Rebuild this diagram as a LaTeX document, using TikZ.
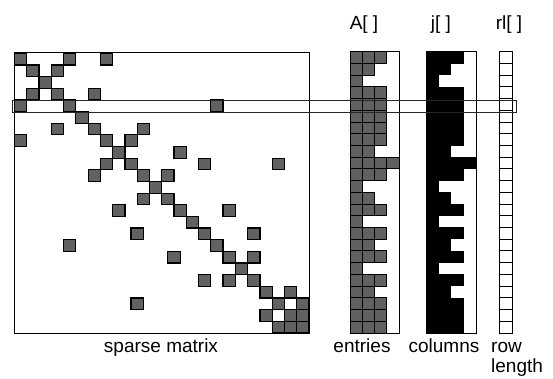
\documentclass[tikz,border=0pt]{standalone}
\usepackage{fontspec}
\setmainfont{Liberation Sans}
\begin{document}
\begin{tikzpicture}[x=1pt,y=-1pt,
  cellbox/.style={fill=black!62, draw=black, line width=1.2pt},
  arrcell/.style={fill=black!62, draw=black, line width=0.9pt},
  framebox/.style={draw=black, line width=0.9pt},
  lbl/.style={font=\fontsize{19}{21}\selectfont, inner sep=0pt}]
\useasboundingbox (0,0) rectangle (553,378);
% sparse matrix cells
\foreach \r/\c in {0/0,0/4,0/7,1/1,1/3,2/2,3/1,3/3,3/6,4/0,4/4,4/16,5/5,
  6/3,6/6,6/10,7/0,7/7,7/9,8/8,8/13,9/7,9/9,9/15,9/21,10/6,10/10,10/12,
  11/11,12/10,12/12,13/8,13/13,13/17,14/14,15/9.5,15/15,15/19,16/4,16/16,
  17/12.5,17/17,17/19,18/18,19/15,19/17,19/19,20/20,20/22,21/9.5,21/21,21/23,
  22/20,22/22,22/23,23/21,23/22,23/23}
  \draw[cellbox] ({14.5+\c*12.27},{53.3+\r*11.65}) rectangle ++(12.27,11.65);
\draw[line width=1.3pt] (14.5,52.5) rectangle (309.5,333.5);
% A[], j[], rl[]
\foreach \n [count=\i from 0] in {3,2,1,3,3,3,3,3,2,4,3,1,2,3,1,3,2,3,1,3,2,3,3,3}{
  \foreach \k in {1,...,\n}
    \draw[arrcell] ({350+(\k-1)*12.3},{51.7+\i*11.72}) rectangle ++(12.3,11.72);
  \fill[black] (426.7,{51.5+\i*11.72}) rectangle ++({\n*12.3},12.1);
  \draw[framebox] (499,{51.7+\i*11.72}) rectangle ++(13.3,11.72);
}
\draw[framebox] (350,51.7) rectangle (399.5,333);
\draw[framebox] (426.7,51.7) rectangle (476,333);
% highlighted row
\draw[line width=0.8pt, black!85] (12,100.5) rectangle (516,112);
% labels
\node[lbl, anchor=base] (hA) at (364,29.5) {A[ ]};
\node[lbl, anchor=base] (hj) at (441,29.5) {j[ ]};
\node[lbl, anchor=base] (hr) at (509,29.5) {rl[ ]};
\node[lbl, anchor=base] (lm) at (161,352.5) {sparse matrix};
\node[lbl, anchor=base] (le) at (362,352.5) {entries};
\node[lbl, anchor=base] (lc) at (444,352.5) {columns};
\node[lbl, anchor=base west] (lr) at (491,352.5) {row};
\node[lbl, anchor=base west] (ll) at (491,372.5) {length};
\end{tikzpicture}
\end{document}
